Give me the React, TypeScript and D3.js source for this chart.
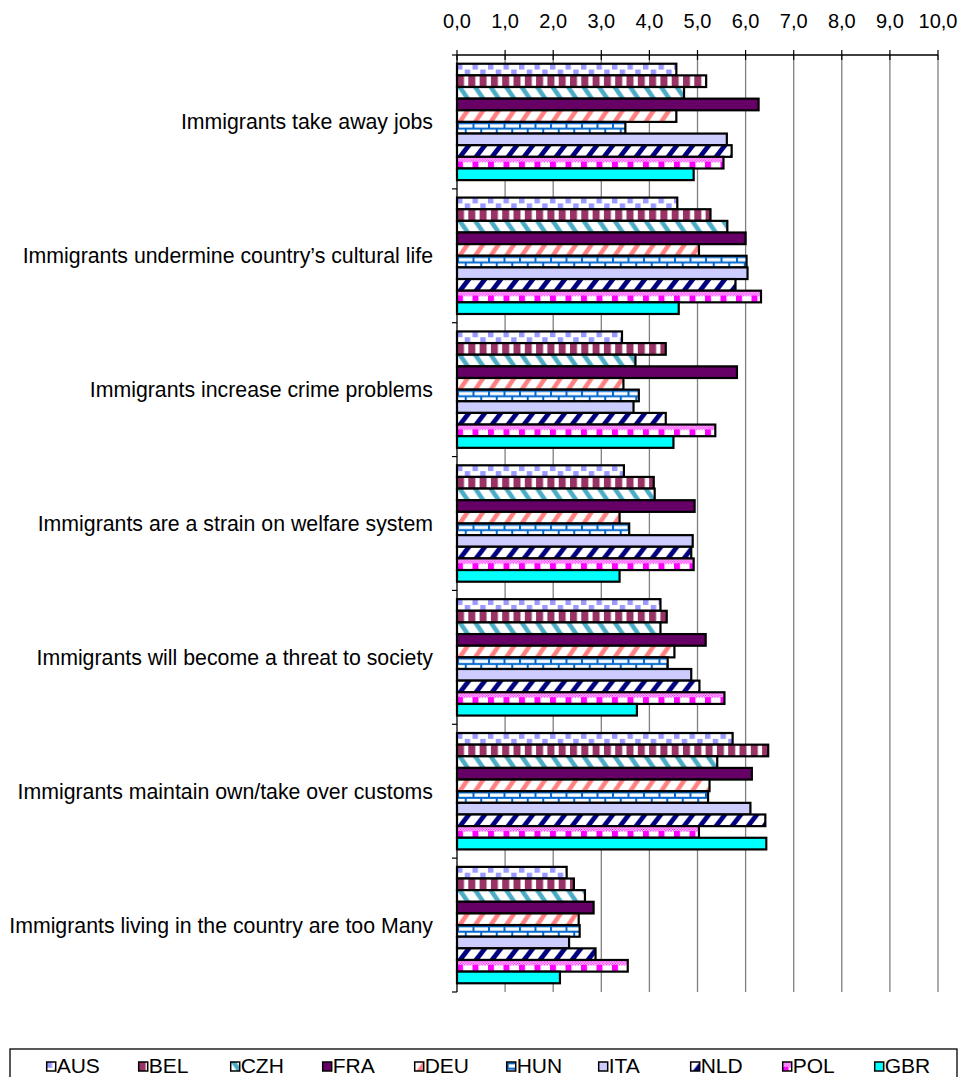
import React from "react";
import * as d3 from "d3";

// Survey statements (top to bottom) and the countries plotted within each.
const categories: string[] = [
  "Immigrants take away jobs",
  "Immigrants undermine country\u2019s cultural life",
  "Immigrants increase crime problems",
  "Immigrants are a strain on welfare system",
  "Immigrants will become a threat to society",
  "Immigrants maintain own/take over customs",
  "Immigrants living in the country are too Many",
];

const countries: string[] = ["AUS", "BEL", "CZH", "FRA", "DEU", "HUN", "ITA", "NLD", "POL", "GBR"];

// Mean agreement score per statement, one array per country.
const AUS: number[] = [4.56, 4.58, 3.43, 3.47, 4.23, 5.73, 2.28];
const BEL: number[] = [5.18, 5.27, 4.34, 4.09, 4.36, 6.47, 2.43];
const CZH: number[] = [4.72, 5.62, 3.71, 4.11, 4.23, 5.41, 2.66];
const FRA: number[] = [6.27, 6.0, 5.82, 4.94, 5.17, 6.13, 2.84];
const DEU: number[] = [4.56, 5.03, 3.46, 3.38, 4.52, 5.25, 2.53];
const HUN: number[] = [3.5, 6.02, 3.78, 3.58, 4.38, 5.22, 2.55];
const ITA: number[] = [5.61, 6.04, 3.67, 4.9, 4.87, 6.1, 2.33];
const NLD: number[] = [5.71, 5.79, 4.34, 4.87, 5.04, 6.41, 2.88];
const POL: number[] = [5.54, 6.32, 5.37, 4.92, 5.56, 5.03, 3.55];
const GBR: number[] = [4.92, 4.61, 4.5, 3.38, 3.74, 6.43, 2.14];

const seriesValues: number[][] = [AUS, BEL, CZH, FRA, DEU, HUN, ITA, NLD, POL, GBR];

const xTicks: number[] = [0, 1, 2, 3, 4, 5, 6, 7, 8, 9, 10];

const FONT = "'Liberation Sans', Arial, sans-serif";

const W = 963;
const H = 1077;
const plotLeft = 457;
const plotRight = 938;
const plotTop = 55;
const plotBottom = 992;

const x = d3.scaleLinear().domain([0, 10]).range([plotLeft, plotRight]);
const y = d3.scaleBand<string>().domain(categories).range([plotTop, plotBottom]).padding(0);
// Excel-style gap: 150% of a bar width split around each group.
const yInner = d3
  .scaleBand<string>()
  .domain(countries)
  .range([0, y.bandwidth()])
  .paddingInner(0)
  .paddingOuter(0.75);
const bh = yInner.bandwidth();

const fmt = (v: number) => v.toFixed(1).replace(".", ",");

function Patterns() {
  const half = bh / 2;
  const fine: { x: number; y: number }[] = [];
  const c = 1.34;
  for (let r = 0; r * c < bh * 0.42; r++) {
    for (let k = 0; k * c < 15.5; k++) {
      if ((r + k) % 2 === 0) fine.push({ x: k * c, y: r * c });
    }
  }
  return (
    <defs>
      <pattern id="p-AUS" patternUnits="userSpaceOnUse" width={15.5} height={bh}>
        <rect width={15.5} height={bh} fill="#fff" />
        <rect x={0} y={0} width={5.4} height={half} fill="#9999FF" />
        <rect x={7.75} y={half} width={5.4} height={half} fill="#9999FF" />
      </pattern>
      <pattern id="p-BEL" patternUnits="userSpaceOnUse" width={11.3} height={bh}>
        <rect width={11.3} height={bh} fill="#fff" />
        <rect x={0} y={0} width={7} height={bh} fill="#993366" />
      </pattern>
      <pattern id="p-CZH" patternUnits="userSpaceOnUse" width={15.5} height={bh}>
        <rect width={15.5} height={bh} fill="#fff" />
        <polygon points={`0,0 5.5,0 13.5,${bh} 8,${bh}`} fill="#4BACC6" />
      </pattern>
      <pattern id="p-FRA" patternUnits="userSpaceOnUse" width={10} height={bh}>
        <rect width={10} height={bh} fill="#660066" />
      </pattern>
      <pattern id="p-DEU" patternUnits="userSpaceOnUse" width={15.5} height={bh}>
        <rect width={15.5} height={bh} fill="#fff" />
        <polygon points={`8,0 13.5,0 5.5,${bh} 0,${bh}`} fill="#FF8080" />
      </pattern>
      <pattern id="p-HUN" patternUnits="userSpaceOnUse" width={15.5} height={bh}>
        <rect width={15.5} height={bh} fill="#fff" />
        <line x1={0} x2={15.5} y1={1.3} y2={1.3} stroke="#0066CC" strokeWidth={2} />
        <line x1={0} x2={15.5} y1={half + 0.8} y2={half + 0.8} stroke="#0066CC" strokeWidth={2} />
        <line x1={1} x2={1} y1={1} y2={half + 0.8} stroke="#0066CC" strokeWidth={2} />
        <line x1={8.75} x2={8.75} y1={half + 0.8} y2={bh} stroke="#0066CC" strokeWidth={2} />
      </pattern>
      <pattern id="p-ITA" patternUnits="userSpaceOnUse" width={10} height={bh}>
        <rect width={10} height={bh} fill="#CCCCFF" />
      </pattern>
      <pattern id="p-NLD" patternUnits="userSpaceOnUse" width={16} height={bh}>
        <rect width={16} height={bh} fill="#fff" />
        <polygon points={`9,0 15,0 6,${bh} 0,${bh}`} fill="#000080" />
      </pattern>
      <pattern id="p-POL" patternUnits="userSpaceOnUse" width={15.5} height={bh}>
        <rect width={15.5} height={bh} fill="#fff" />
        {fine.map((d, i) => (
          <rect key={i} x={d.x} y={d.y} width={c} height={c} fill="#FF00FF" />
        ))}
        <rect x={0} y={bh * 0.42} width={6} height={bh * 0.58} fill="#FF00FF" />
      </pattern>
      <pattern id="p-GBR" patternUnits="userSpaceOnUse" width={10} height={bh}>
        <rect width={10} height={bh} fill="#00FFFF" />
      </pattern>
    </defs>
  );
}

export default function App() {
  const legendStep = 92;
  const legendX0 = 46.7;
  const legendTop = 1049;

  return (
    <svg
      width={W}
      height={H}
      viewBox={`0 0 ${W} ${H}`}
      style={{ position: "absolute", left: 0, top: 0, background: "#fff" }}
      fontFamily={FONT}
    >
      <Patterns />
      <rect width={W} height={H} fill="#fff" />

      {/* vertical gridlines */}
      {xTicks.slice(1).map((t) => (
        <line
          key={`g${t}`}
          x1={x(t)}
          x2={x(t)}
          y1={plotTop}
          y2={plotBottom}
          stroke="#808080"
          strokeWidth={1.3}
        />
      ))}

      {/* bars */}
      {categories.map((cat, ci) => (
        <g key={cat}>
          {countries.map((cn, si) => {
            const v = seriesValues[si][ci];
            const by = (y(cat) as number) + (yInner(cn) as number);
            return (
              <g key={cn} transform={`translate(${x(0)},${by})`}>
                <rect
                  x={0}
                  y={0}
                  width={x(v) - x(0)}
                  height={bh}
                  fill={`url(#p-${cn})`}
                  stroke="#000"
                  strokeWidth={2.2}
                />
              </g>
            );
          })}
        </g>
      ))}

      {/* value axis along the top */}
      <line x1={plotLeft} x2={plotRight} y1={plotTop} y2={plotTop} stroke="#000" strokeWidth={1.3} />
      {xTicks.map((t) => (
        <g key={`t${t}`}>
          <line x1={x(t)} x2={x(t)} y1={plotTop - 5} y2={plotTop + 5} stroke="#000" strokeWidth={1.2} />
          <text x={x(t)} y={28} textAnchor="middle" fontSize={20} fill="#000">
            {fmt(t)}
          </text>
        </g>
      ))}

      {/* category axis */}
      <line x1={plotLeft} x2={plotLeft} y1={plotTop} y2={plotBottom} stroke="#000" strokeWidth={1.3} />
      {categories.map((cat) => (
        <line
          key={`ct${cat}`}
          x1={plotLeft - 5}
          x2={plotLeft}
          y1={y(cat) as number}
          y2={y(cat) as number}
          stroke="#000"
          strokeWidth={1.2}
        />
      ))}
      <line x1={plotLeft - 5} x2={plotLeft} y1={plotBottom} y2={plotBottom} stroke="#000" strokeWidth={1.2} />
      {categories.map((cat) => (
        <text
          key={`cl${cat}`}
          x={433}
          y={(y(cat) as number) + y.bandwidth() / 2}
          dy="0.35em"
          textAnchor="end"
          fontSize={21.3}
          fill="#000"
        >
          {cat}
        </text>
      ))}

      {/* legend */}
      <rect x={10} y={legendTop} width={947} height={50} fill="#fff" stroke="#000" strokeWidth={1.3} />
      {countries.map((cn, i) => {
        const lx = legendX0 + i * legendStep;
        return (
          <g key={`lg${cn}`}>
            <g transform={`translate(${lx},${legendTop + 13})`}>
              <rect width={9} height={9} fill={`url(#p-${cn})`} stroke="#000" strokeWidth={1.5} />
            </g>
            <text x={lx + 10} y={legendTop + 24} fontSize={21} fill="#000">
              {cn}
            </text>
          </g>
        );
      })}
    </svg>
  );
}
